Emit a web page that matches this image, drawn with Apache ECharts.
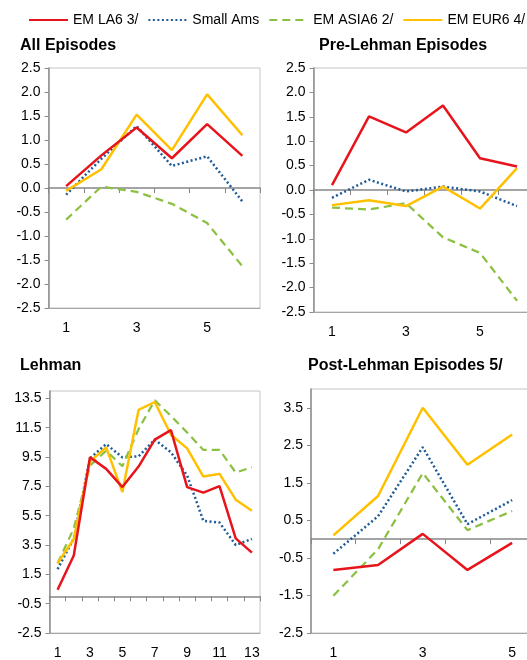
<!DOCTYPE html>
<html><head><meta charset="utf-8">
<script src="https://cdn.jsdelivr.net/npm/echarts@6/dist/echarts.min.js"></script>
<style>html,body{margin:0;padding:0;background:#fff;overflow:hidden;width:527px;height:660px}#c{width:545px;height:660px}</style>
</head><body><div id="c"></div>
<script>
// ---- data ----
const seriesNames = ['EM LA6 3/', 'Small Ams', 'EM ASIA6 2/', 'EM EUR6 4/'];
const panelTitles = ['All Episodes', 'Pre-Lehman Episodes', 'Lehman', 'Post-Lehman Episodes 5/'];

const catsAll = ['1', '2', '3', '4', '5', '6'];
const allLA   = [0.04, 0.68, 1.26, 0.62, 1.33, 0.67];
const allSA   = [-0.14, 0.61, 1.29, 0.46, 0.66, -0.28];
const allASIA = [-0.66, 0.03, -0.08, -0.33, -0.73, -1.63];
const allEUR  = [-0.06, 0.39, 1.53, 0.79, 1.95, 1.10];

const catsPre = ['1', '2', '3', '4', '5', '6'];
const preLA   = [0.10, 1.51, 1.18, 1.73, 0.65, 0.48];
const preSA   = [-0.16, 0.21, -0.03, 0.07, -0.03, -0.33];
const preASIA = [-0.36, -0.40, -0.27, -0.97, -1.29, -2.27];
const preEUR  = [-0.31, -0.21, -0.33, 0.07, -0.38, 0.45];

const catsLeh = ['1', '2', '3', '4', '5', '6', '7', '8', '9', '10', '11', '12', '13'];
const lehLA   = [0.45, 2.78, 9.48, 8.69, 7.45, 8.85, 10.68, 11.33, 7.45, 7.07, 7.52, 3.95, 2.98];
const lehSA   = [1.85, 3.95, 9.41, 10.38, 9.48, 9.55, 10.68, 9.82, 8.24, 5.15, 5.03, 3.50, 3.91];
const lehASIA = [2.26, 4.63, 8.92, 9.93, 8.87, 11.40, 13.36, 12.30, 11.17, 9.98, 9.98, 8.44, 8.80];
const lehEUR  = [2.26, 3.91, 9.19, 10.16, 7.11, 12.71, 13.25, 11.02, 10.09, 8.17, 8.35, 6.59, 5.83];

const catsPost = ['1', '2', '3', '4', '5'];
const postLA   = [-0.82, -0.69, 0.14, -0.82, -0.10];
const postSA   = [-0.39, 0.61, 2.45, 0.40, 1.04];
const postASIA = [-1.51, -0.27, 1.76, 0.24, 0.75];
const postEUR  = [0.10, 1.15, 3.50, 1.98, 2.79];

const yTicksEp   = [-2.5, -2.0, -1.5, -1.0, -0.5, 0.0, 0.5, 1.0, 1.5, 2.0, 2.5];
const yTicksLeh  = [-2.5, -0.5, 1.5, 3.5, 5.5, 7.5, 9.5, 11.5, 13.5];
const yTicksPost = [-2.5, -1.5, -0.5, 0.5, 1.5, 2.5, 3.5];

// ---- styling ----
const FONT = 'Liberation Sans, Arial, sans-serif';
const lineStyles = [
  { color: '#E8141C', width: 2.5, type: 'solid' },
  { color: '#1F5B96', width: 2.5, type: [2, 2.5] },
  { color: '#8CC043', width: 2.25, type: [8, 5] },
  { color: '#FFC000', width: 2.5, type: 'solid' }
];

const panels = [
  { cats: catsAll, data: [allLA, allSA, allASIA, allEUR], min: -2.5, max: 2.5, ticks: yTicksEp,
    grid: { left: 48.5, top: 68, width: 211.5, height: 240 } },
  { cats: catsPre, data: [preLA, preSA, preASIA, preEUR], min: -2.5, max: 2.5, ticks: yTicksEp,
    grid: { left: 313.5, top: 68, width: 222, height: 244 } },
  { cats: catsLeh, data: [lehLA, lehSA, lehASIA, lehEUR], min: -2.5, max: 14, ticks: yTicksLeh,
    grid: { left: 49.5, top: 391, width: 210.5, height: 245 } },
  { cats: catsPost, data: [postLA, postSA, postASIA, postEUR], min: -2.5, max: 4, ticks: yTicksPost,
    grid: { left: 311, top: 389, width: 223.5, height: 247 } }
];

const grids = [], xAxes = [], yAxes = [], series = [];
panels.forEach((p, i) => {
  grids.push(Object.assign({ show: true, borderColor: '#c4c4c4', borderWidth: 1, backgroundColor: 'transparent', containLabel: false }, p.grid));
  xAxes.push({
    type: 'category', gridIndex: i, data: p.cats, position: 'bottom', boundaryGap: true,
    axisLine: { onZero: false, lineStyle: { color: '#a6a6a6', width: 1 } },
    axisTick: { show: false },
    axisLabel: { interval: 1, color: '#000', fontFamily: FONT, fontSize: 14, margin: 13 },
    splitLine: { show: false }
  });
  xAxes.push({
    type: 'category', gridIndex: i, data: p.cats, position: 'top', boundaryGap: true,
    axisLine: { onZero: true, lineStyle: { color: '#868686', width: 1.5 } },
    axisTick: { show: true, inside: true, length: 5, interval: 0, lineStyle: { color: '#868686', width: 1 } },
    axisLabel: { show: false },
    splitLine: { show: false }
  });
  yAxes.push({
    type: 'value', gridIndex: i, min: p.min, max: p.max,
    axisLine: { show: true, lineStyle: { color: '#8c8c8c', width: 1.5 } },
    axisTick: { show: true, length: 4, customValues: p.ticks, lineStyle: { color: '#8c8c8c' } },
    axisLabel: { customValues: p.ticks, color: '#000', fontFamily: FONT, fontSize: 14, margin: 8,
      formatter: v => v.toFixed(1) },
    splitLine: { show: false }
  });
  p.data.forEach((d, k) => {
    series.push({
      name: seriesNames[k], type: 'line', xAxisIndex: i * 2, yAxisIndex: i,
      data: d, symbol: 'none', lineStyle: lineStyles[k], itemStyle: { color: lineStyles[k].color },
      z: k === 0 ? 5 : 3
    });
  });
});

const titles = [
  { text: panelTitles[0], left: 20, top: 38 },
  { text: panelTitles[1], left: 319, top: 38 },
  { text: panelTitles[2], left: 20, top: 358 },
  { text: panelTitles[3], left: 308, top: 358 }
].map(t => Object.assign(t, { padding: 0, textStyle: { fontFamily: FONT, fontSize: 16, fontWeight: 'bold', color: '#000' } }));

const chart = echarts.init(document.getElementById('c'), null, { renderer: 'canvas' });
chart.setOption({
  animation: false,
  backgroundColor: '#fff',
  title: titles,
  legend: {
    data: seriesNames, left: 28, top: 13, padding: 0, itemGap: 9, itemWidth: 39, itemHeight: 14,
    itemStyle: { opacity: 0 },
    textStyle: { fontFamily: FONT, fontSize: 14, color: '#000' }
  },
  grid: grids,
  xAxis: xAxes,
  yAxis: yAxes,
  series: series
});
</script></body></html>
